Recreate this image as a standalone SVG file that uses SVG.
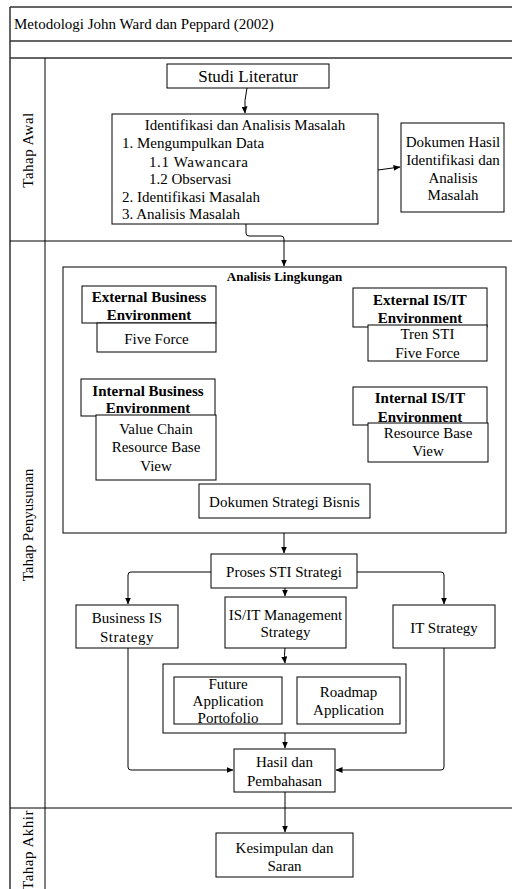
<svg xmlns="http://www.w3.org/2000/svg" width="512" height="889" viewBox="0 0 512 889">
<defs>
<style>
text{font-family:"Liberation Serif","Times New Roman",serif;font-size:15px;fill:#000}
.c{text-anchor:middle}
.b{font-weight:bold}
.n{fill:#fff;stroke:#000;stroke-width:1}
.f{fill:none;stroke:#333;stroke-width:1.5}
.l{fill:none;stroke:#000;stroke-width:1}
.e{fill:none;stroke:#000;stroke-width:1;marker-end:url(#ah)}
</style>
<marker id="ah" markerWidth="7" markerHeight="6" refX="6.5" refY="3" orient="auto" markerUnits="userSpaceOnUse">
<path d="M0,0 L7,3 L0,6 Z" fill="#000"/>
</marker>
</defs>
<rect width="512" height="889" fill="#fff"/>
<g id="frame">
<path class="f" d="M10,7 H512 M10,41 H512 M10,58 H512 M10,7 V889"/>
<path class="l" d="M10,241 H512 M10,808 H512 M45,58 V889"/>
<text x="14" y="29">Metodologi John Ward dan Peppard (2002)</text>
<text class="c" transform="translate(33,150) rotate(-90)" style="letter-spacing:0.5px">Tahap Awal</text>
<text class="c" transform="translate(33,525) rotate(-90)">Tahap Penyusunan</text>
<text class="c" transform="translate(33,850) rotate(-90)" style="letter-spacing:0.5px">Tahap Akhir</text>
</g>
<g id="connectors">
<path class="e" d="M247,88 Q244,100 245,113"/>
<path class="e" d="M378,170 L400,167"/>
<path class="e" d="M246,224 V233 Q246,236 249,236 H281 Q284,236 284,239 V266"/>
<path class="e" d="M284,533 V553"/>
<path class="e" d="M211,572 H131 Q128,572 128,575 V604"/>
<path class="e" d="M357,572 H441 Q444,572 444,575 V604"/>
<path class="e" d="M285,588 V596"/>
<path class="e" d="M285,648 Q284,655 285,663"/>
<path class="e" d="M285,733 V748"/>
<path class="e" d="M128,648 V767 Q128,770 131,770 H233"/>
<path class="e" d="M444,648 V767 Q444,770 441,770 H336"/>
<path class="e" d="M285,792 V832"/>
</g>
<g id="studi">
<rect class="n" x="167" y="64" width="162" height="24"/>
<text class="c" x="248" y="82" style="font-size:17px">Studi Literatur</text>
</g>
<g id="identifikasi">
<rect class="n" x="112" y="114" width="266" height="110"/>
<text class="c" x="245" y="130">Identifikasi dan Analisis Masalah</text>
<text x="122" y="148">1. Mengumpulkan Data</text>
<text x="149" y="167" style="letter-spacing:0.6px">1.1 Wawancara</text>
<text x="149" y="184">1.2 Observasi</text>
<text x="122" y="202">2. Identifikasi Masalah</text>
<text x="122" y="219">3. Analisis Masalah</text>
</g>
<g id="dokumen-hasil">
<rect class="n" x="401" y="123" width="103" height="89"/>
<text class="c" x="453" y="147">Dokumen Hasil</text>
<text class="c" x="453" y="165">Identifikasi dan</text>
<text class="c" x="453" y="183">Analisis</text>
<text class="c" x="453" y="200">Masalah</text>
</g>
<g id="analisis-lingkungan">
<rect class="n" x="63" y="267" width="443" height="266"/>
<text class="c b" x="284.5" y="281" style="font-size:13px">Analisis Lingkungan</text>
</g>
<g id="ext-business">
<rect class="n" x="82" y="286" width="134" height="37"/>
<text class="c b" x="149" y="302">External Business</text>
<text class="c b" x="149" y="320">Environment</text>
<rect class="n" x="97" y="323" width="119" height="29"/>
<text class="c" x="156.5" y="344">Five Force</text>
</g>
<g id="ext-isit">
<rect class="n" x="353" y="288" width="134" height="39"/>
<text class="c b" x="420" y="305">External IS/IT</text>
<text class="c b" x="420" y="323">Environment</text>
<rect class="n" x="368" y="325" width="119" height="36"/>
<text class="c" x="427.5" y="339">Tren STI</text>
<text class="c" x="427.5" y="358">Five Force</text>
</g>
<g id="int-business">
<rect class="n" x="81" y="379" width="134" height="37"/>
<text class="c b" x="148" y="396">Internal Business</text>
<text class="c b" x="148" y="413">Environment</text>
<rect class="n" x="96" y="415" width="120" height="65"/>
<text class="c" x="156" y="434">Value Chain</text>
<text class="c" x="156" y="452">Resource Base</text>
<text class="c" x="156" y="471">View</text>
</g>
<g id="int-isit">
<rect class="n" x="353" y="387" width="134" height="38"/>
<text class="c b" x="420" y="403">Internal IS/IT</text>
<text class="c b" x="420" y="422">Environment</text>
<rect class="n" x="368" y="423" width="120" height="39"/>
<text class="c" x="428" y="438">Resource Base</text>
<text class="c" x="428" y="456">View</text>
</g>
<g id="dokumen-strategi">
<rect class="n" x="199" y="484" width="171" height="34"/>
<text class="c" x="284.5" y="507">Dokumen Strategi Bisnis</text>
</g>
<g id="proses-sti">
<rect class="n" x="211" y="554" width="146" height="34"/>
<text class="c" x="284" y="577">Proses STI Strategi</text>
</g>
<g id="business-is">
<rect class="n" x="76" y="605" width="102" height="43"/>
<text class="c" x="127" y="623">Business IS</text>
<text class="c" x="127" y="642" style="letter-spacing:0.5px">Strategy</text>
</g>
<g id="isit-management">
<rect class="n" x="225" y="597" width="121" height="51"/>
<text class="c" x="285.5" y="620">IS/IT Management</text>
<text class="c" x="285.5" y="637">Strategy</text>
</g>
<g id="it-strategy">
<rect class="n" x="393" y="605" width="102" height="43"/>
<text class="c" x="444" y="633">IT Strategy</text>
</g>
<g id="application-group">
<rect class="n" x="163" y="664" width="243" height="69"/>
</g>
<g id="future-app">
<rect class="n" x="174" y="677" width="108" height="47"/>
<text class="c" x="228" y="689">Future</text>
<text class="c" x="228" y="706">Application</text>
<text class="c" x="228" y="723">Portofolio</text>
</g>
<g id="roadmap-app">
<rect class="n" x="297" y="677" width="103" height="47"/>
<text class="c" x="348.5" y="697">Roadmap</text>
<text class="c" x="348.5" y="715">Application</text>
</g>
<g id="hasil">
<rect class="n" x="234" y="749" width="101" height="43"/>
<text class="c" x="284.5" y="767">Hasil dan</text>
<text class="c" x="284.5" y="786">Pembahasan</text>
</g>
<g id="kesimpulan">
<rect class="n" x="216" y="833" width="137" height="44"/>
<text class="c" x="284.5" y="853">Kesimpulan dan</text>
<text class="c" x="284.5" y="871">Saran</text>
</g>
</svg>
